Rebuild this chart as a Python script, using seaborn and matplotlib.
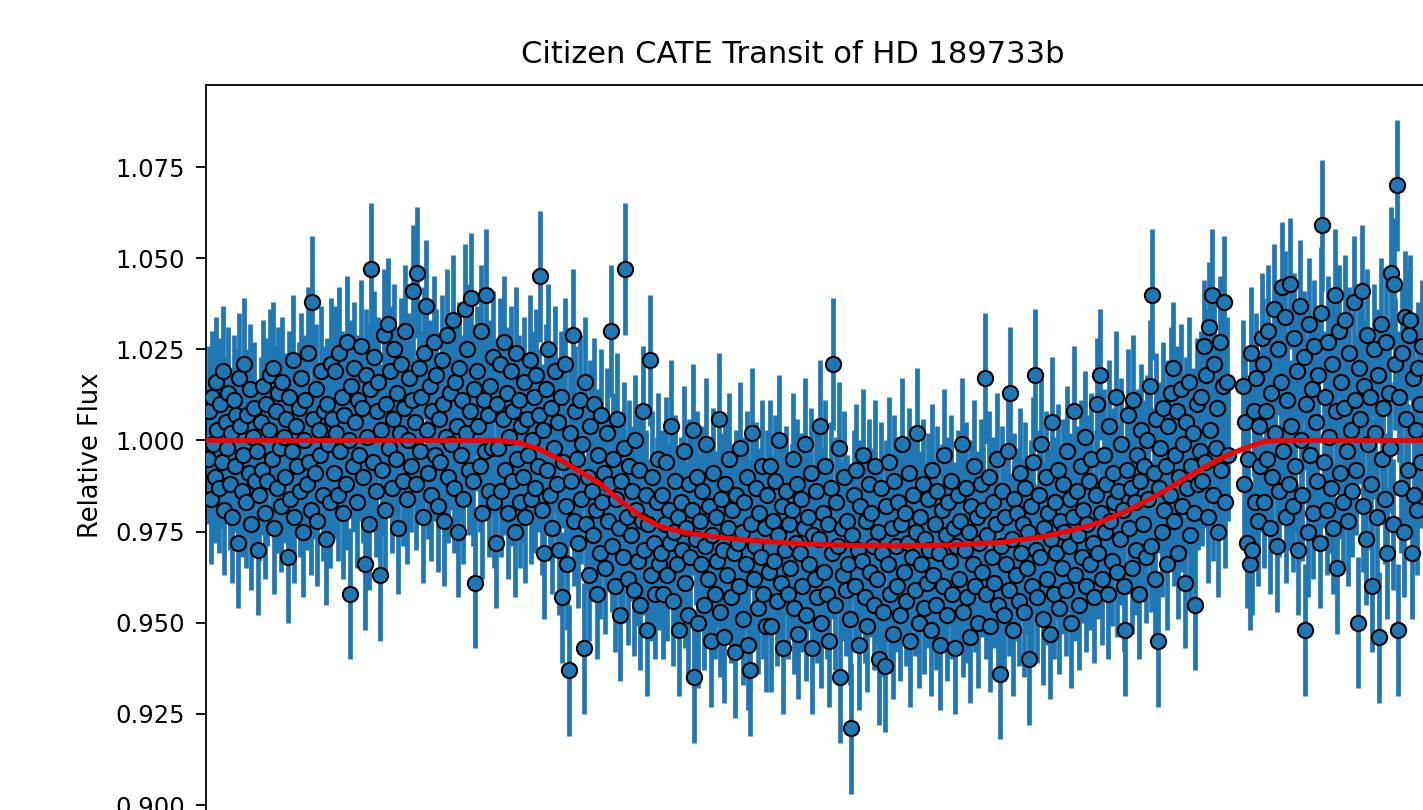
import numpy as np
import pandas as pd
import matplotlib
matplotlib.use("Agg")
import matplotlib.pyplot as plt
import seaborn as sns

# ---------------- data ----------------
title = "Citizen CATE Transit of HD 189733b"
ylabel = "Relative Flux"
yticks = [0.900, 0.925, 0.950, 0.975, 1.000, 1.025, 1.050, 1.075]

nan = np.nan
flux = [
    # pre-transit (A)
    0.995, 1.008, 0.984, 1.012, 0.999, 0.990, 1.016, 1.003, 0.987, 1.010, 0.994, 1.019, 0.981, 1.005, 0.998, 1.013, 0.988, 1.002, 0.979, 1.011,
    0.993, 1.007, 0.972, 1.017, 1.004, 0.986, 0.996, 1.021, 0.983, 1.007, 0.991, 1.014, 0.977, 1.001, 1.009, 0.989, 0.997, 0.970, 0.985, 1.005,
    0.992, 1.015, 0.980, 1.010, 0.989, 1.003, 1.018, 0.995, 1.020, 0.976, 1.008, 0.987, 1.013, 0.998, 0.982, 1.016, 1.001, 0.990, 1.006, 0.968,
    1.012, 0.984, 0.997, 1.022, 0.979, 1.004, 0.993, 1.009, 0.986, 1.017, 0.975, 1.000, 1.011, 0.988, 1.024, 0.994, 0.981, 1.038, 1.006, 0.991,
    1.014, 0.978, 1.003, 0.996, 1.019, 0.985, 1.008, 0.973, 1.010, 0.999, 0.983, 1.021,
    # pre-transit (B)
    1.006, 0.991, 1.019, 1.002, 0.985, 1.024, 0.997, 1.012, 0.980, 1.007, 0.988, 1.027, 1.000, 0.958, 1.015, 0.993, 1.020, 1.005, 0.983, 1.011,
    0.996, 1.026, 1.009, 0.990, 0.966, 1.018, 1.001, 0.977, 1.014, 1.047, 0.994, 1.023, 0.986, 1.008, 1.016, 0.963, 1.003, 0.992, 1.029, 0.981,
    1.010, 1.032, 0.998, 1.019, 0.987, 1.006, 1.025, 0.995, 1.013, 0.976, 1.002, 1.021, 0.989, 1.009, 1.030, 0.984, 1.000, 1.017, 0.993, 1.011,
    1.041, 1.005, 0.988, 1.046, 1.020, 0.997, 1.012, 0.979, 1.024, 1.037, 1.003, 0.991, 1.015, 0.985, 1.008, 1.027, 0.996, 1.018, 0.982, 1.006,
    0.994, 1.022, 1.010, 0.978, 1.001, 1.029, 0.990, 1.013, 0.999, 1.033, 0.987, 1.016, 1.004, 0.975, 1.020, 0.996, 1.011, 0.984, 1.036, 1.002,
    1.025, 0.992, 1.008, 1.039, 0.989, 1.014, 0.961, 1.019, 1.004, 0.993, 1.030, 0.980, 1.011, 0.997, 1.040, 1.007, 0.986, 1.015, 0.998, 1.023,
    0.983,
    # ingress (C)
    0.972, 1.010, 0.998, 1.021, 0.986, 1.006, 1.027, 0.992, 1.013, 0.980, 1.001, 1.019, 0.989, 1.008, 0.975, 1.024, 0.995, 1.011, 0.983, 1.004,
    0.990, 1.016, 0.979, 1.006, 0.996, 1.022, 0.984, 1.000, 1.012, 0.987, 1.018, 0.993, 1.007, 1.045, 0.981, 1.003, 0.969, 1.014, 0.992, 1.025,
    0.985, 1.009, 0.976, 0.998, 1.019, 0.988, 1.005, 0.970, 1.012, 0.957, 0.994, 1.021, 0.982, 0.966, 0.937, 1.002, 0.989, 1.029, 0.978, 1.008,
    0.995, 0.972, 1.011, 0.984, 0.999, 0.943, 1.016, 0.977, 0.990, 0.963, 1.004, 0.986, 0.974, 1.010, 0.981, 0.958, 0.996, 0.969, 1.007, 0.983,
    0.991, 0.965, 1.002, 0.978, 0.988, 1.030, 0.971, 0.995, 0.960, 0.984, 1.006, 0.976, 0.952, 0.989, 0.968, 0.998, 1.047, 0.979, 0.962, 0.993,
    0.974, 0.986, 0.959, 1.000, 0.981, 0.967, 0.992, 0.955, 0.978, 1.008, 0.970, 0.985, 0.948, 0.977, 1.022, 0.963, 0.990, 0.972, 0.958, 0.983,
    0.995, 0.966,
    # in transit (D)
    0.969, 0.985, 0.958, 0.977, 0.994, 0.963, 0.981, 0.972, 1.004, 0.956, 0.975, 0.989, 0.966, 0.979, 0.948, 0.983, 0.970, 0.997, 0.961, 0.976,
    0.952, 0.988, 0.968, 0.981, 1.003, 0.935, 0.973, 0.990, 0.950, 0.978, 0.966, 0.986, 0.955, 0.971, 0.999, 0.962, 0.982, 0.945, 0.974, 0.991,
    0.958, 0.979, 0.967, 1.006, 0.953, 0.984, 0.970, 0.946, 0.988, 0.963, 0.976, 0.995, 0.957, 0.981, 0.969, 0.942, 0.985, 0.972, 0.960, 0.998,
    0.975, 0.951, 0.983, 0.966, 0.990, 0.944, 0.937, 0.977, 1.002, 0.962, 0.971, 0.987, 0.954, 0.980, 0.968, 0.993, 0.958, 0.976, 0.949, 0.985,
    0.964, 0.993, 0.949, 0.978, 0.967, 0.989, 0.956, 0.974, 1.000, 0.961, 0.982, 0.943, 0.970, 0.986, 0.958, 0.977, 0.965, 0.981, 0.995, 0.954,
    0.972, 0.988, 0.947, 0.969, 0.984, 0.960, 0.976, 0.999, 0.952, 0.979, 0.966, 0.991, 0.943, 0.974, 0.962, 0.986, 0.957, 0.973, 1.004, 0.950,
    0.980, 0.964, 0.993, 0.958, 0.977, 0.945, 0.987, 0.969, 1.021, 0.955, 0.983, 0.971, 0.998, 0.935, 0.976, 0.963, 0.990, 0.959, 0.978, 0.966,
    0.951, 0.921, 0.974, 0.985, 0.960, 0.992, 0.970, 0.944, 0.982, 0.967, 0.996, 0.957, 0.978, 0.949, 0.988, 0.964, 0.980, 0.971, 0.955, 0.993,
    0.962, 0.975, 0.940, 0.987, 0.969, 0.953, 0.938, 0.982, 0.966, 0.994, 0.958, 0.976, 0.947, 0.989, 0.971, 0.960, 0.983, 0.952, 0.977, 0.999,
    0.964, 0.980, 0.956, 0.972, 0.991, 0.945, 0.968, 0.985, 0.959, 0.975, 1.002, 0.950, 0.979, 0.966, 0.988, 0.954, 0.973, 0.961, 0.984, 0.970,
    0.948, 0.992, 0.963, 0.977, 0.955, 0.986, 0.969, 0.944, 0.981, 0.960, 0.996, 0.974, 0.952, 0.983, 0.967, 0.989, 0.958, 0.976, 0.943, 0.971,
    0.985, 0.962, 0.978, 0.999, 0.953, 0.970, 0.987, 0.957, 0.975, 0.946, 0.982, 0.966, 0.993, 0.960, 0.979, 0.950, 0.972, 0.988, 0.964, 0.981,
    1.017, 0.958, 0.974, 0.990, 0.949, 0.968, 0.983, 0.961, 0.977, 0.995, 0.955, 0.936, 0.971, 0.986, 0.952, 0.979, 0.966, 0.997, 0.959, 1.013,
    0.973, 0.948, 0.984, 0.963, 0.980, 0.956, 0.991, 0.969, 0.977, 0.953, 0.987, 0.965, 0.975, 0.940, 0.982, 0.960, 0.994, 1.018, 0.970, 0.957,
    0.985, 0.968, 0.999, 0.951, 0.976, 0.990, 0.962, 0.980, 0.947, 0.973, 1.005, 0.958, 0.983, 0.969, 0.992, 0.954, 0.978, 0.965, 0.988, 0.975,
    0.959, 0.997, 0.971, 0.984, 0.950, 0.979, 1.008, 0.963, 0.986, 0.974, 0.955, 0.993, 0.968, 0.981, 1.001, 0.960, 0.977, 0.989, 0.966, 0.995,
    0.972, 0.957, 0.985, 1.010, 0.969, 1.018, 0.980, 0.962, 0.996, 0.975, 0.988, 0.958, 1.004, 0.978, 0.967, 0.991, 0.983, 1.012, 0.964, 0.986,
    0.973, 0.999, 0.981, 0.960, 0.948, 0.992, 1.007, 0.976, 0.987, 0.965, 1.011, 0.983, 0.970, 0.996, 0.958, 0.989, 1.003, 0.977, 0.993, 0.968,
    1.000, 0.984, 1.015, 0.971, 1.040, 0.991, 0.962, 1.006, 0.945, 0.987, 0.998, 0.975, 1.009, 0.981, 0.993, 0.966, 1.004, 0.985, 1.013, 1.020,
    0.978, 0.996, 1.008, 0.969, 0.990, 1.014, 0.982, 0.999, 0.961, 1.005, 0.987, 1.016, 0.974, 0.993, 1.002, 0.980, 0.955, 1.010, 0.988, 0.997,
    # egress (E), with a short gap in the observations
    1.012, 0.989, 1.026, 0.994, 1.018, 0.979, 1.031, 1.003, 1.040, 0.985, 1.021, 0.998, 1.009, 0.975, 1.027, 0.992, 1.015, 1.038, 0.983, 1.016,
    0.996,
    nan, nan, nan, nan, nan, nan, nan, nan, nan, nan,
    1.015, 0.988, 1.005, 0.972, 0.995, 0.966, 1.024, 0.970, 1.008, 0.983, 1.017, 0.978, 1.004, 0.993, 1.028,
    # post-transit (F)
    1.021, 0.983, 1.008, 0.995, 1.030, 0.976, 1.013, 0.990, 1.036, 1.002, 0.971, 1.025, 0.986, 1.016, 1.042, 0.997, 1.034, 0.979, 1.011, 0.988,
    1.043, 1.004, 0.982, 1.028, 0.993, 1.019, 0.970, 1.037, 1.000, 0.985, 1.023, 0.948, 1.010, 0.975, 1.032, 0.996, 1.014, 0.980, 1.026, 1.005,
    0.989, 1.018, 0.972, 1.035, 1.059, 0.994, 1.012, 0.981, 1.027, 1.001, 0.987, 1.021, 0.976, 1.040, 1.008, 0.965, 1.030, 0.991, 1.016, 0.983,
    1.009, 1.033, 0.997, 0.978, 1.024, 1.003, 0.986, 1.038, 1.011, 0.992, 0.950, 1.020, 1.006, 1.041, 0.982, 1.015, 0.973, 1.029, 0.999, 1.012,
    0.988, 0.960, 1.025, 1.002, 0.979, 1.018, 0.946, 1.032, 0.995, 1.009, 0.984, 1.027, 0.969, 1.013, 0.998, 1.046, 0.977, 1.043, 1.021, 1.070,
    0.948, 1.012, 0.987, 1.024, 0.975, 1.034, 1.006, 0.992, 1.029, 1.033, 0.969, 1.017, 0.985, 1.003, 0.981, 1.020, 1.010, 0.994, 1.026,
]
flux_err = 0.018

model_time = [0, 216, 231, 246, 260, 275, 290, 305, 320, 334, 352, 379, 401, 438, 475,
              512, 549, 586, 616, 638, 660, 682, 705, 727, 749, 768, 782, 794, 900]
model_flux = [1.0, 1.0, 0.9993, 0.9975, 0.9948, 0.9915, 0.9882, 0.9835, 0.9793, 0.9765,
              0.9748, 0.9734, 0.9726, 0.9717, 0.9712, 0.9711, 0.9713, 0.9720, 0.9735,
              0.9752, 0.9775, 0.9810, 0.9855, 0.9905, 0.9950, 0.9980, 0.9997, 1.0, 1.0]

# exposure number is the time coordinate
exposure = np.arange(len(flux))
df = pd.DataFrame({"t": exposure, "flux": flux})
model_df = pd.DataFrame({"t": model_time, "flux": model_flux})

# ---------------- figure ----------------
W, H = 1423, 810
fig = plt.figure(figsize=(W / 100, H / 100), dpi=100)
plt.rcParams["font.family"] = ["DejaVu Sans"]

ylim = (0.8945, 1.0975)
xlim = (-1.5, 912)
px_per_unit = 3645.7
ax_left_px, ax_top_px, ax_right_px = 206, 85, 1440
ax_h_px = (ylim[1] - ylim[0]) * px_per_unit
ax = fig.add_axes([ax_left_px / W, 1 - (ax_top_px + ax_h_px) / H,
                   (ax_right_px - ax_left_px) / W, ax_h_px / H])

blue = "#1f77b4"
ax.errorbar(df["t"], df["flux"], yerr=flux_err, fmt="none", ecolor=blue,
            elinewidth=3.4, zorder=2)
sns.scatterplot(data=df, x="t", y="flux", ax=ax, s=120, color=blue,
                edgecolor="black", linewidth=1.5, legend=False, zorder=3)
sns.lineplot(data=model_df, x="t", y="flux", ax=ax, color="red",
             linewidth=3.6, zorder=4)

ax.set_xlim(*xlim)
ax.set_ylim(*ylim)
ax.set_yticks(yticks)
ax.set_yticklabels([f"{v:.3f}" for v in yticks])
ax.set_xticks([])
ax.set_xlabel("")
ax.set_ylabel(ylabel, fontsize=18.5, labelpad=8)
ax.tick_params(axis="y", labelsize=17.5, length=7, width=1.3, pad=8, colors="black")
for sp in ax.spines.values():
    sp.set_linewidth(1.3)
    sp.set_color("black")

fig.text(793 / W, 1 - 63 / H, title, ha="center", va="baseline", fontsize=22)

fig.savefig("out.png", dpi=100)
